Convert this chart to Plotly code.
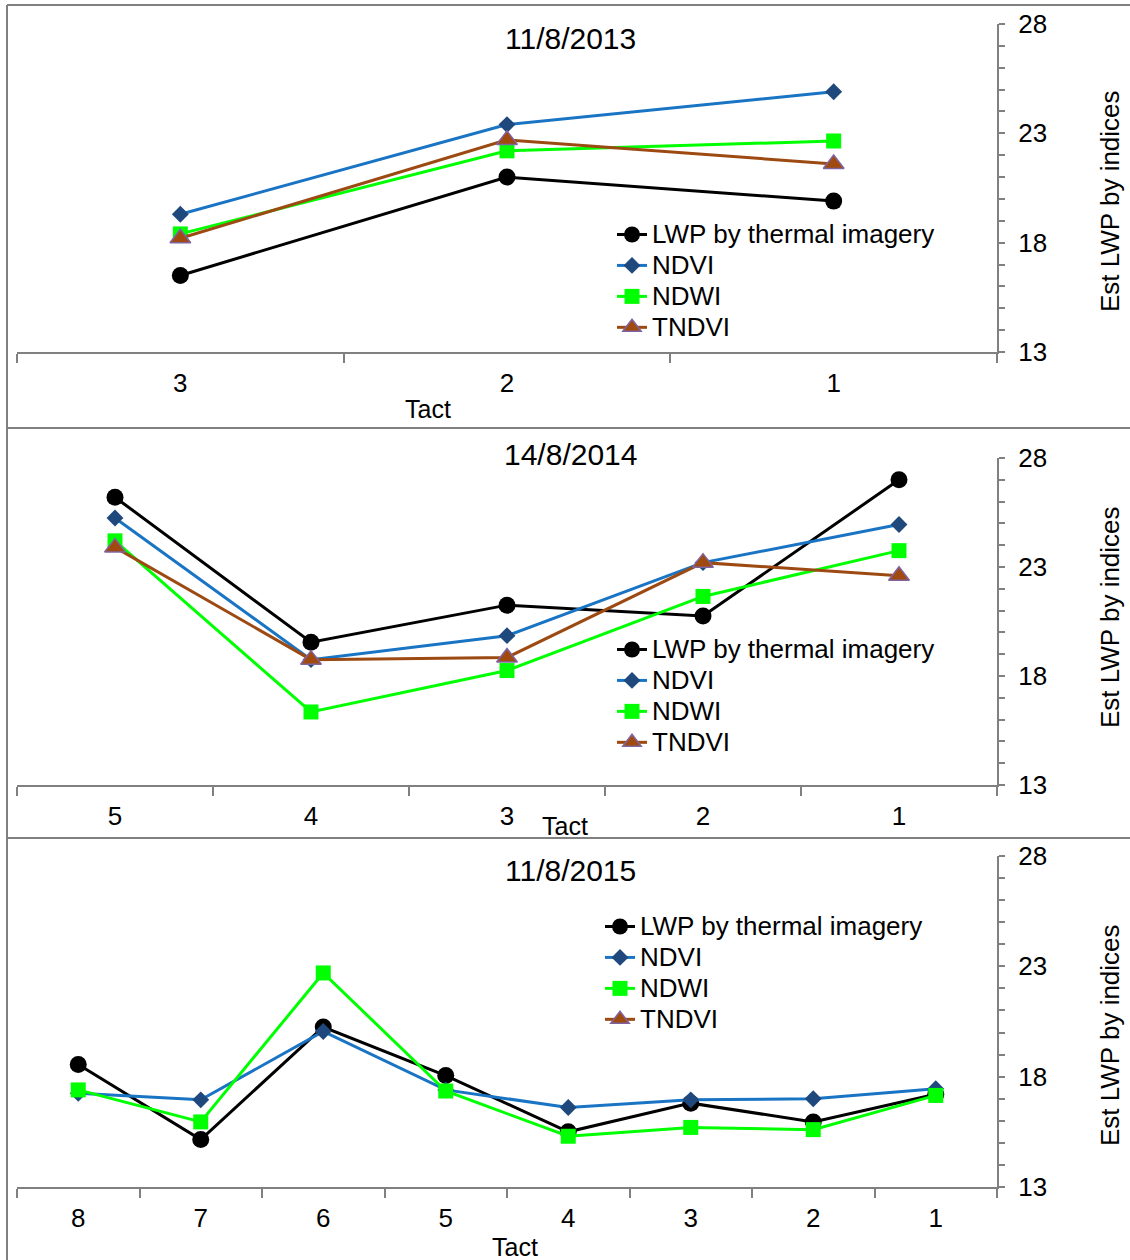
import plotly.graph_objects as go

W, H = 1130, 1260

# ---------------- data ----------------
series_names = ['LWP by thermal imagery', 'NDVI', 'NDWI', 'TNDVI']
panel_titles = ['11/8/2013', '14/8/2014', '11/8/2015']

tact_2013 = ['3', '2', '1']
lwp_2013 = [16.5, 21.0, 19.9]
ndvi_2013 = [19.3, 23.4, 24.9]
ndwi_2013 = [18.4, 22.2, 22.65]
tndvi_2013 = [18.2, 22.7, 21.6]

tact_2014 = ['5', '4', '3', '2', '1']
lwp_2014 = [26.2, 19.55, 21.25, 20.75, 27.0]
ndvi_2014 = [25.25, 18.75, 19.85, 23.2, 24.95]
ndwi_2014 = [24.2, 16.35, 18.25, 21.65, 23.75]
tndvi_2014 = [23.9, 18.75, 18.85, 23.2, 22.6]

tact_2015 = ['8', '7', '6', '5', '4', '3', '2', '1']
lwp_2015 = [18.55, 15.15, 20.25, 18.05, 15.5, 16.8, 15.95, 17.2]
ndvi_2015 = [17.25, 16.95, 20.05, 17.4, 16.6, 16.95, 17.0, 17.45]
ndwi_2015 = [17.4, 15.95, 22.7, 17.35, 15.3, 15.7, 15.6, 17.15]
tndvi_2015 = [None, None, None, None, None, None, None, None]

y_ticks = [13, 18, 23, 28]

panels = [
    (tact_2013, [lwp_2013, ndvi_2013, ndwi_2013, tndvi_2013]),
    (tact_2014, [lwp_2014, ndvi_2014, ndwi_2014, tndvi_2014]),
    (tact_2015, [lwp_2015, ndvi_2015, ndwi_2015, tndvi_2015]),
]

# ---------------- styles ----------------
FONT = 'Liberation Sans, Arial, sans-serif'
styles = [
    dict(line=dict(color='#000000', width=3),
         marker=dict(symbol='circle', size=17, color='#000000')),
    dict(line=dict(color='#1a74c4', width=3),
         marker=dict(symbol='diamond', size=13, color='#1F497D')),
    dict(line=dict(color='#00FF00', width=3),
         marker=dict(symbol='square', size=15, color='#00FF00')),
    dict(line=dict(color='#9C4A12', width=3),
         marker=dict(symbol='triangle-up', size=18, color='#A04A10',
                     line=dict(color='#8064A2', width=1.5))),
]

def px(x):
    return x / W

def py(y):
    return 1 - y / H

# layout geometry (pixels)
x_left, x_right = 17, 997
y_axes_px = [(24, 352), (458, 785), (856, 1187)]
title_y = [38, 454, 870]
tact_pos = [(428, 409), (565, 826), (515, 1247)]
ytitle_y = [201, 617, 1035]
legend_pos = [(612, 214), (612, 629), (600, 906)]

fig = go.Figure()
legend_ids = ['legend', 'legend2', 'legend3']

for i, (cats, vals) in enumerate(panels):
    xa = 'x' if i == 0 else f'x{i+1}'
    ya = 'y' if i == 0 else f'y{i+1}'
    for j, name in enumerate(series_names):
        fig.add_trace(go.Scatter(
            x=cats, y=vals[j],
            name=f'<span style="font-size:26px">{name}</span>',
            mode='lines+markers',
            xaxis=xa, yaxis=ya, legend=legend_ids[i],
            line=styles[j]['line'], marker=styles[j]['marker'],
            connectgaps=False,
        ))

layout = dict(
    width=W, height=H,
    margin=dict(l=0, r=0, t=0, b=0, autoexpand=False),
    paper_bgcolor='white', plot_bgcolor='white',
    font=dict(family=FONT, size=25, color='black'),
    showlegend=True,
)

annotations = []
shapes = []
for i, (cats, vals) in enumerate(panels):
    xk = 'xaxis' if i == 0 else f'xaxis{i+1}'
    yk = 'yaxis' if i == 0 else f'yaxis{i+1}'
    ya = 'y' if i == 0 else f'y{i+1}'
    xa = 'x' if i == 0 else f'x{i+1}'
    top, bot = y_axes_px[i]
    layout[xk] = dict(
        domain=[px(x_left), px(x_right)], anchor=ya, automargin=False,
        type='category', categoryorder='array', categoryarray=cats,
        range=[-0.5, len(cats) - 0.5], autorange=False,
        tickson='boundaries', ticks='outside', ticklen=9, tickwidth=1.5,
        tickcolor='#808080', showline=True, linecolor='#808080', linewidth=2,
        showgrid=False, zeroline=False,
        tickfont=dict(family=FONT, size=26, color='black'),
        ticklabelstandoff=7,
    )
    layout[yk] = dict(
        domain=[py(bot), py(top)], anchor=xa, side='right', automargin=False,
        range=[13, 28], tickmode='array', tickvals=y_ticks,
        ticks='outside', ticklen=6, tickwidth=1.5, tickcolor='#808080',
        minor=dict(dtick=1, tick0=13, ticks='outside', ticklen=6,
                   tickwidth=1.5, tickcolor='#808080', showgrid=False),
        showline=True, linecolor='#808080', linewidth=2,
        showgrid=False, zeroline=False,
        tickfont=dict(family=FONT, size=26, color='black'),
        ticklabelstandoff=8,
    )
    lx, ly = legend_pos[i]
    layout[legend_ids[i]] = dict(
        x=px(lx), y=py(ly), xanchor='left', yanchor='top',
        bgcolor='rgba(0,0,0,0)', borderwidth=0,
        font=dict(family=FONT, size=21.5, color='black'),
        tracegroupgap=0, itemwidth=30,
    )
    annotations.append(dict(
        text=panel_titles[i], x=px(570), y=py(title_y[i]),
        xref='paper', yref='paper', showarrow=False,
        font=dict(family=FONT, size=30, color='black'),
        xanchor='center', yanchor='middle'))
    tx, ty = tact_pos[i]
    annotations.append(dict(
        text='Tact', x=px(tx), y=py(ty), xref='paper', yref='paper',
        showarrow=False, font=dict(family=FONT, size=25, color='black'),
        xanchor='center', yanchor='middle'))
    annotations.append(dict(
        text='Est LWP by indices', x=px(1110), y=py(ytitle_y[i]),
        xref='paper', yref='paper', showarrow=False, textangle=-90,
        font=dict(family=FONT, size=26, color='black'),
        xanchor='center', yanchor='middle'))

# panel frames
frame = dict(type='line', xref='paper', yref='paper',
             line=dict(color='#808080', width=2))
for yy in [5, 428, 838]:
    shapes.append(dict(frame, x0=px(7), x1=1.0, y0=py(yy), y1=py(yy)))
shapes.append(dict(frame, x0=px(7), x1=px(7), y0=py(5), y1=0.0))

layout['annotations'] = annotations
layout['shapes'] = shapes
fig.update_layout(**layout)

post = (
    "document.documentElement.style.margin='0';"
    "document.documentElement.style.padding='0';"
    "document.documentElement.style.overflow='hidden';"
    "document.body.style.margin='0';"
    "document.body.style.padding='0';"
    "document.body.style.overflow='hidden';"
    "var gd=document.getElementById('{plot_id}');"
    "gd.style.position='fixed';gd.style.top='0px';gd.style.left='0px';"
)

fig.write_html('out.html', config={'displayModeBar': False},
               post_script=post)
